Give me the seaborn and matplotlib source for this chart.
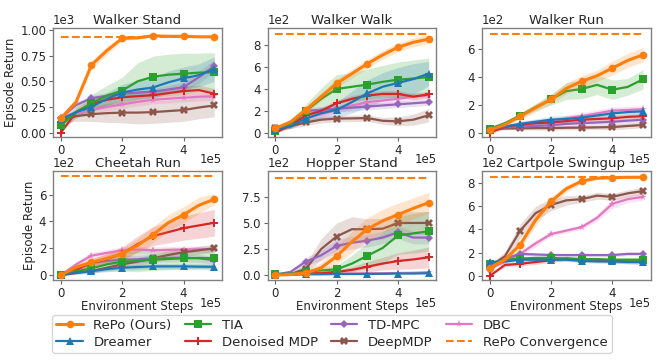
import numpy as np
import pandas as pd
import matplotlib
matplotlib.use('Agg')
import matplotlib.pyplot as plt
import seaborn as sns

# -----------------------------
# Data (x in env steps, every 0.5e5; markers on the integer 1e5 steps)
# -----------------------------

steps = [0, 50000, 100000, 150000, 200000, 250000, 300000, 350000, 400000, 450000, 500000]

methods = ["RePo (Ours)", "Dreamer", "TIA", "Denoised MDP", "TD-MPC", "DeepMDP", "DBC"]
markers = ["o", "^", "s", "P", "D", "X", "*"]

tasks = ["Walker Stand", "Walker Walk", "Walker Run", "Cheetah Run", "Hopper Stand", "Cartpole Swingup"]
convergence = [930, 900, 710, 735, 935, 850]

walker_stand = {
    "RePo (Ours)":  [140, 300, 660, 800, 920, 925, 945, 940, 940, 935, 935],
    "Dreamer":      [130, 200, 250, 330, 390, 420, 440, 490, 530, 560, 620],
    "TIA":          [70, 200, 290, 360, 410, 500, 545, 565, 575, 585, 590],
    "Denoised MDP": [0, 200, 280, 320, 345, 355, 365, 385, 405, 415, 380],
    "TD-MPC":       [140, 270, 335, 360, 380, 390, 400, 420, 445, 540, 650],
    "DeepMDP":      [120, 160, 180, 190, 195, 195, 200, 210, 220, 245, 265],
    "DBC":          [140, 190, 220, 250, 275, 300, 320, 330, 340, 350, 355],
}
walker_stand_sd = {
    "RePo (Ours)":  [20, 30, 40, 40, 20, 15, 10, 10, 10, 10, 10],
    "Dreamer":      [20, 30, 40, 60, 80, 90, 100, 110, 110, 110, 120],
    "TIA":          [30, 60, 80, 100, 130, 180, 200, 200, 200, 190, 190],
    "Denoised MDP": [10, 40, 50, 50, 50, 50, 50, 50, 50, 50, 50],
    "TD-MPC":       [20, 30, 30, 30, 30, 30, 30, 40, 50, 60, 60],
    "DeepMDP":      [30, 50, 70, 90, 100, 110, 110, 110, 110, 110, 110],
    "DBC":          [20, 30, 30, 40, 40, 40, 40, 40, 40, 40, 40],
}

walker_walk = {
    "RePo (Ours)":  [40, 100, 210, 330, 450, 540, 630, 710, 780, 825, 855],
    "Dreamer":      [30, 60, 130, 180, 210, 280, 360, 420, 455, 490, 540],
    "TIA":          [20, 80, 200, 310, 400, 420, 440, 465, 485, 495, 510],
    "Denoised MDP": [0, 70, 160, 200, 270, 310, 340, 355, 355, 330, 350],
    "TD-MPC":       [40, 90, 200, 210, 220, 230, 240, 250, 260, 270, 280],
    "DeepMDP":      [40, 60, 95, 120, 130, 132, 135, 110, 105, 120, 160],
    "DBC":          [40, 60, 130, 170, 210, 250, 280, 295, 310, 330, 345],
}
walker_walk_sd = {
    "RePo (Ours)":  [10, 20, 30, 40, 40, 40, 40, 40, 40, 40, 40],
    "Dreamer":      [10, 20, 30, 50, 70, 100, 120, 130, 140, 140, 110],
    "TIA":          [10, 40, 60, 100, 130, 130, 140, 150, 160, 170, 170],
    "Denoised MDP": [10, 20, 30, 30, 30, 30, 30, 30, 30, 30, 30],
    "TD-MPC":       [10, 20, 30, 30, 30, 30, 30, 30, 30, 30, 30],
    "DeepMDP":      [10, 20, 30, 30, 30, 30, 30, 30, 40, 50, 60],
    "DBC":          [10, 20, 30, 30, 30, 30, 30, 30, 30, 30, 30],
}

walker_run = {
    "RePo (Ours)":  [20, 60, 120, 180, 240, 320, 370, 410, 465, 520, 560],
    "Dreamer":      [30, 45, 65, 80, 95, 100, 110, 125, 140, 150, 155],
    "TIA":          [30, 70, 125, 185, 240, 300, 315, 345, 310, 330, 385],
    "Denoised MDP": [0, 45, 60, 70, 75, 85, 95, 100, 105, 115, 120],
    "TD-MPC":       [30, 40, 45, 50, 55, 65, 70, 75, 80, 88, 95],
    "DeepMDP":      [30, 32, 33, 35, 35, 37, 38, 40, 42, 50, 57],
    "DBC":          [30, 45, 60, 75, 85, 105, 120, 140, 160, 165, 170],
}
walker_run_sd = {
    "RePo (Ours)":  [10, 15, 20, 30, 30, 40, 40, 40, 50, 50, 50],
    "Dreamer":      [10, 15, 20, 20, 25, 25, 25, 25, 25, 25, 25],
    "TIA":          [10, 15, 20, 25, 40, 60, 70, 70, 70, 60, 70],
    "Denoised MDP": [10, 15, 15, 20, 20, 20, 20, 20, 20, 20, 20],
    "TD-MPC":       [10, 15, 15, 20, 20, 20, 20, 20, 20, 20, 20],
    "DeepMDP":      [10, 10, 10, 15, 15, 15, 15, 15, 20, 20, 20],
    "DBC":          [10, 15, 20, 20, 20, 20, 25, 25, 25, 25, 25],
}

cheetah_run = {
    "RePo (Ours)":  [0, 60, 95, 125, 160, 220, 300, 390, 450, 520, 565],
    "Dreamer":      [0, 20, 30, 45, 55, 60, 65, 65, 65, 63, 62],
    "TIA":          [0, 30, 50, 80, 100, 105, 115, 120, 125, 128, 125],
    "Denoised MDP": [0, 40, 90, 120, 160, 230, 290, 320, 350, 370, 390],
    "TD-MPC":       [0, 50, 90, 105, 115, 118, 125, 128, 130, 125, 110],
    "DeepMDP":      [0, 15, 30, 55, 80, 100, 125, 150, 170, 185, 200],
    "DBC":          [0, 80, 145, 165, 185, 190, 185, 188, 190, 192, 195],
}
cheetah_run_sd = {
    "RePo (Ours)":  [5, 20, 30, 30, 40, 50, 60, 60, 60, 60, 40],
    "Dreamer":      [5, 10, 15, 20, 20, 20, 20, 20, 20, 20, 20],
    "TIA":          [5, 15, 30, 50, 70, 80, 80, 80, 80, 80, 80],
    "Denoised MDP": [5, 20, 30, 40, 50, 60, 70, 80, 90, 95, 100],
    "TD-MPC":       [5, 15, 20, 25, 30, 30, 30, 30, 30, 30, 30],
    "DeepMDP":      [5, 10, 15, 20, 25, 30, 30, 30, 30, 30, 30],
    "DBC":          [5, 20, 25, 25, 25, 25, 25, 25, 25, 25, 25],
}

hopper_stand = {
    "RePo (Ours)":  [0, 5, 20, 70, 180, 320, 440, 520, 580, 640, 695],
    "Dreamer":      [5, 5, 8, 8, 10, 10, 10, 12, 15, 15, 18],
    "TIA":          [10, 15, 30, 45, 55, 110, 185, 260, 380, 400, 420],
    "Denoised MDP": [0, 5, 15, 20, 30, 50, 80, 110, 135, 150, 170],
    "TD-MPC":       [5, 30, 130, 190, 280, 310, 330, 360, 410, 360, 360],
    "DeepMDP":      [5, 10, 60, 250, 370, 440, 440, 445, 500, 500, 500],
    "DBC":          [5, 10, 10, 12, 15, 15, 18, 18, 20, 22, 28],
}
hopper_stand_sd = {
    "RePo (Ours)":  [5, 5, 20, 50, 80, 100, 110, 110, 110, 100, 100],
    "Dreamer":      [5, 5, 5, 5, 5, 5, 5, 5, 5, 5, 5],
    "TIA":          [5, 10, 20, 30, 40, 80, 120, 150, 180, 190, 190],
    "Denoised MDP": [5, 5, 10, 10, 20, 30, 50, 60, 80, 90, 100],
    "TD-MPC":       [5, 20, 40, 50, 60, 60, 60, 60, 60, 60, 60],
    "DeepMDP":      [5, 10, 50, 100, 130, 120, 100, 100, 100, 110, 110],
    "DBC":          [5, 5, 5, 5, 5, 5, 5, 5, 5, 5, 8],
}

cartpole_swingup = {
    "RePo (Ours)":  [70, 140, 270, 480, 640, 750, 815, 840, 845, 848, 848],
    "Dreamer":      [120, 125, 140, 140, 140, 140, 130, 125, 125, 120, 120],
    "TIA":          [100, 140, 150, 155, 155, 150, 145, 145, 140, 140, 140],
    "Denoised MDP": [0, 95, 105, 120, 135, 150, 140, 140, 130, 125, 120],
    "TD-MPC":       [50, 150, 190, 185, 180, 180, 180, 180, 180, 190, 190],
    "DeepMDP":      [80, 170, 390, 540, 610, 650, 660, 690, 680, 710, 730],
    "DBC":          [70, 120, 190, 280, 360, 390, 420, 500, 620, 660, 680],
}
cartpole_swingup_sd = {
    "RePo (Ours)":  [10, 20, 40, 50, 40, 30, 20, 10, 10, 10, 10],
    "Dreamer":      [15, 15, 15, 15, 15, 15, 15, 15, 15, 15, 15],
    "TIA":          [15, 15, 15, 15, 15, 15, 15, 15, 15, 15, 15],
    "Denoised MDP": [10, 15, 20, 20, 20, 20, 20, 20, 20, 20, 20],
    "TD-MPC":       [15, 15, 15, 15, 15, 15, 15, 15, 15, 15, 15],
    "DeepMDP":      [20, 40, 60, 60, 50, 40, 30, 30, 30, 30, 30],
    "DBC":          [10, 20, 30, 30, 20, 20, 20, 30, 40, 30, 30],
}

means = [walker_stand, walker_walk, walker_run, cheetah_run, hopper_stand, cartpole_swingup]
spreads = [walker_stand_sd, walker_walk_sd, walker_run_sd, cheetah_run_sd, hopper_stand_sd, cartpole_swingup_sd]
ylims = [(-40, 1020), (-35, 955), (-27, 752), (-37, 772), (-48, 994), (-35, 898)]
yticks = [
    [0, 250, 500, 750, 1000],
    [0, 200, 400, 600, 800],
    [0, 200, 400, 600],
    [0, 200, 400, 600],
    [0, 250, 500, 750],
    [0, 200, 400, 600, 800],
]

# -----------------------------
# Plot
# -----------------------------

sns.set_style("white")
plt.rcParams['font.family'] = ['DejaVu Sans']
palette = sns.color_palette("tab10")
colors = [palette[1], palette[0], palette[2], palette[3], palette[4], palette[5], palette[6]]

fig, axes = plt.subplots(2, 3, figsize=(6.64, 3.6), dpi=100)
fig.subplots_adjust(left=0.08, right=0.98, top=0.922, bottom=0.222, wspace=0.27, hspace=0.32)

for i, ax in enumerate(axes.flat):
    task_means = means[i]
    task_sd = spreads[i]
    for m in methods[::-1]:
        k = methods.index(m)
        y = np.array(task_means[m], dtype=float)
        sd = np.array(task_sd[m], dtype=float)
        z = 10 if k == 0 else 3
        ax.fill_between(steps, y - sd, y + sd, color=colors[k], alpha=0.2, linewidth=0, zorder=z - 1)
        df = pd.DataFrame({"x": steps, "y": y})
        sns.lineplot(data=df, x="x", y="y", ax=ax, color=colors[k], marker=markers[k],
                     markevery=2, markersize=5.5 if k != 4 else 4.5, markeredgewidth=0,
                     linewidth=2.2 if k == 0 else 1.6,
                     label=m if i == 0 else None, zorder=z, legend=False)
    ax.plot([steps[0], steps[-1]], [convergence[i]] * 2, linestyle="--", color=palette[1],
            linewidth=1.5, label="RePo Convergence" if i == 0 else None, zorder=2)

    ax.set_title(tasks[i], fontsize=9.5, pad=3)
    ax.set_ylim(*ylims[i])
    ax.set_yticks(yticks[i])
    ax.set_xlim(-25000, 525000)
    ax.set_xticks([0, 200000, 400000])
    ax.ticklabel_format(style="sci", axis="both", scilimits=(0, 0))
    ax.tick_params(labelsize=8.5, length=3, pad=2, left=True, bottom=True, color="0.4")
    ax.yaxis.get_offset_text().set_fontsize(8.5)
    for sp in ax.spines.values():
        sp.set_edgecolor("0.5")
        sp.set_linewidth(1.0)
    ax.set_xlabel("Environment Steps" if i >= 3 else "", fontsize=8.5, labelpad=0)
    ax.set_ylabel("Episode Return" if i % 3 == 0 else "", fontsize=8.5, labelpad=2)

# put the x "1e5" offset beside the xlabel, like the original
fig.canvas.draw()
for ax in axes.flat:
    off = ax.xaxis.get_offset_text()
    s = off.get_text()
    off.set_visible(False)
    ax.annotate(s, xy=(1.0, 0.0), xycoords="axes fraction", xytext=(0, -12),
                textcoords="offset points", ha="right", va="top", fontsize=8.5)

handles, labels = axes[0, 0].get_legend_handles_labels()
order = [labels.index(n) for n in methods + ["RePo Convergence"]]
handles = [handles[o] for o in order]
labels = [labels[o] for o in order]
fig.legend(handles, labels, loc="lower center", ncol=4, bbox_to_anchor=(0.5, 0.02),
           borderaxespad=0, fontsize=9.5, frameon=True, edgecolor="0.8", handlelength=2.0,
           columnspacing=1.0, labelspacing=0.3, borderpad=0.3)

plt.savefig("out.png", dpi=100)
plt.close()
